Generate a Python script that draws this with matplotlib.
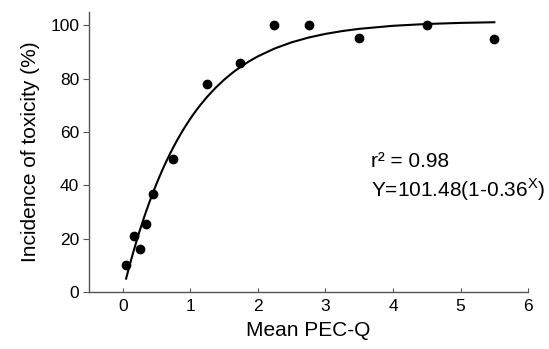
import matplotlib
matplotlib.use("Agg")
import matplotlib.pyplot as plt

plt.rcParams['font.family'] = ['Liberation Sans', 'DejaVu Sans']
plt.rcParams['mathtext.fontset'] = 'custom'
plt.rcParams['mathtext.rm'] = 'Liberation Sans'

# observed points
pec_q = [0.05, 0.16, 0.25, 0.345, 0.45, 0.745, 1.24, 1.74, 2.24, 2.75, 3.5, 4.5, 5.5]
toxicity = [10, 21, 16, 25.4, 36.7, 50, 78, 86, 100.2, 100, 95.2, 100, 95]

# fitted curve (Y=101.48(1-0.36^X))
fit_x = [0.05, 0.1, 0.15, 0.2, 0.25, 0.3, 0.35, 0.4, 0.45, 0.5, 0.55, 0.6, 0.65,
         0.7, 0.75, 0.8, 0.85, 0.9, 0.95, 1.0, 1.05, 1.1, 1.15, 1.25, 1.375,
         1.5, 1.625, 1.75, 1.875, 2.0, 2.25, 2.5, 2.75, 3.0, 3.25, 3.5, 4.0,
         4.5, 5.0, 5.5]
fit_y = [5.05, 9.86, 14.42, 18.75, 22.87, 26.79, 30.51, 34.04, 37.40, 40.59,
         43.62, 46.51, 49.24, 51.84, 54.32, 56.67, 58.90, 61.02, 63.03, 64.95,
         66.77, 68.50, 70.14, 73.18, 76.57, 79.56, 82.19, 84.50, 86.54, 88.33,
         91.29, 93.59, 95.37, 96.75, 97.81, 98.64, 99.78, 100.46, 100.87, 101.11]

fig = plt.figure(figsize=(5.49, 3.49), dpi=100)
ax = fig.add_axes([0.162, 0.163, 0.8, 0.803])

ax.plot(fit_x, fit_y, color='black', lw=1.5)
ax.plot(pec_q, toxicity, 'o', color='black', ms=6)

ax.set_xlim(-0.5, 6)
ax.set_ylim(0, 105)
ax.set_xticks(range(0, 7))
ax.set_yticks(range(0, 101, 20))

for s in ['top', 'right']:
    ax.spines[s].set_visible(False)
for s in ['left', 'bottom']:
    ax.spines[s].set_color('#555555')
    ax.spines[s].set_linewidth(1.0)

ax.tick_params(axis='x', direction='in', length=3, color='#555555', labelsize=12.5, pad=5)
ax.tick_params(axis='y', direction='out', length=4, color='#555555', labelsize=12.5, pad=3)

ax.set_xlabel('Mean PEC-Q', fontsize=15, labelpad=5)
ax.set_ylabel('Incidence of toxicity (%)', fontsize=15, labelpad=7)

ax.text(3.67, 46.8, 'r² = 0.98', fontsize=15, va='baseline')
ax.text(3.67, 35.6, r'Y=101.48(1-0.36$^{\mathrm{X}}$)', fontsize=15, va='baseline')

fig.savefig('out.png', dpi=100)
